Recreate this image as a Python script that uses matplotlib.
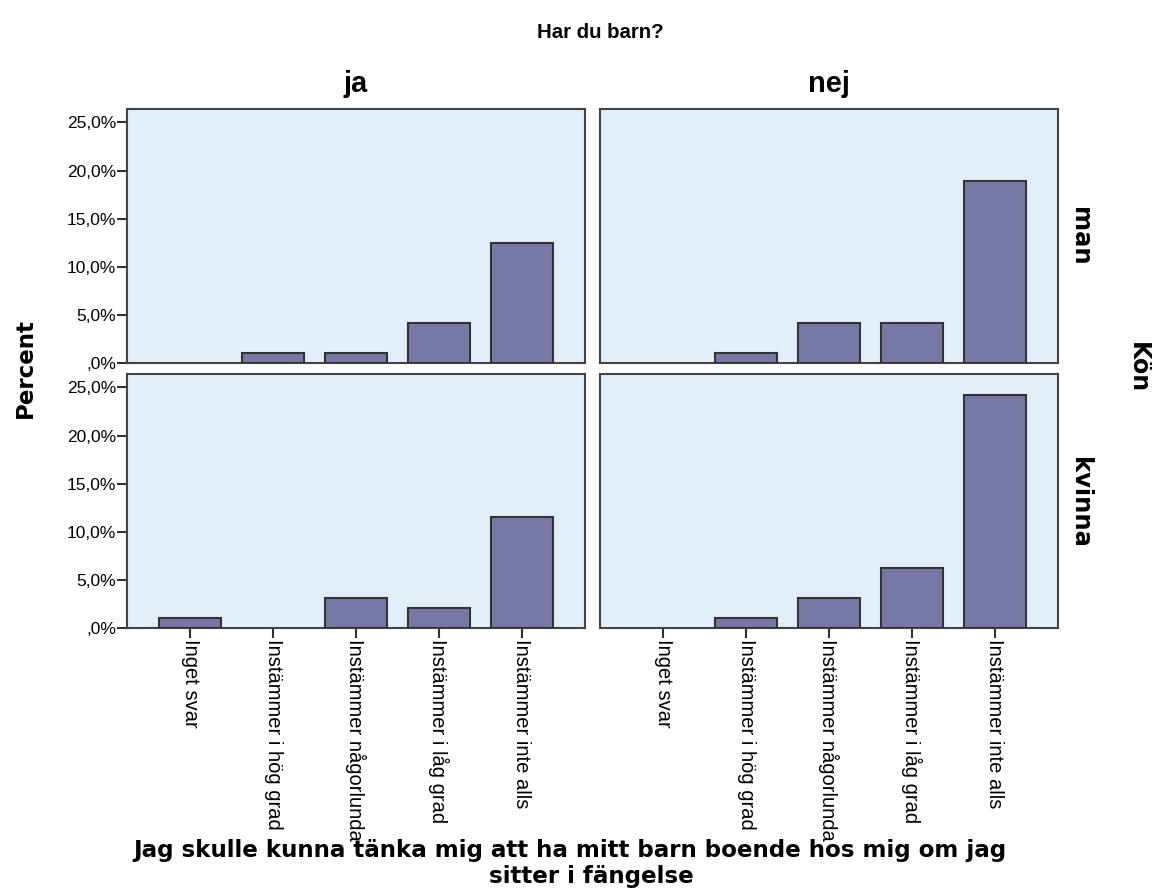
import numpy as np
import matplotlib
matplotlib.use('Agg')
import matplotlib.pyplot as plt
from matplotlib.ticker import FuncFormatter

# kategorier på x-axeln
categories = ['Inget svar', 'Instämmer i hög grad', 'Instämmer någorlunda',
              'Instämmer i låg grad', 'Instämmer inte alls']
col_labels = ['ja', 'nej']
row_labels = ['man', 'kvinna']

# procent per panel
ja_man = [0.0, 1.04, 1.04, 4.17, 12.5]
nej_man = [0.0, 1.04, 4.17, 4.17, 18.9]
ja_kvinna = [1.04, 0.0, 3.13, 2.08, 11.5]
nej_kvinna = [0.0, 1.04, 3.13, 6.25, 24.2]

yticks = [0, 5, 10, 15, 20, 25]

W, H = 1152, 890
fig = plt.figure(figsize=(W / 100, H / 100), dpi=100)

bar_color = '#7878a6'
bg_color = '#e2eefa'
edge_color = '#333333'
arial = ['Liberation Sans', 'DejaVu Sans']
narrow = ['Liberation Sans Narrow', 'Liberation Sans', 'DejaVu Sans']


def pct(v, pos):
    s = ('%.1f' % v).replace('.', ',')
    if s.startswith('0'):
        s = s[1:]
    return s + '%'


# panelernas position i pixlar (vänster, topp)
col_x = [127, 600]
row_y = [109, 374]
pw, ph = 458, 254

panels = [[ja_man, nej_man], [ja_kvinna, nej_kvinna]]
x = np.arange(len(categories))

for r in range(2):
    for c in range(2):
        left = col_x[c] / W
        bottom = 1 - (row_y[r] + ph) / H
        ax = fig.add_axes([left, bottom, pw / W, ph / H])
        ax.set_facecolor(bg_color)
        vals = panels[r][c]
        bars = ax.bar(x, vals, width=0.75, color=bar_color,
                      edgecolor=edge_color, linewidth=1.5, zorder=3)
        # staplar med 0 syns inte
        for b, v in zip(bars, vals):
            if v == 0:
                b.set_visible(False)
        ax.set_xlim(-0.76, 4.76)
        ax.set_ylim(0, 26.4)
        for s in ax.spines.values():
            s.set_color('#444444')
            s.set_linewidth(1.5)
        ax.set_xticks(x)
        if r == 1:
            ax.set_xticklabels(categories, rotation=-90, fontsize=14.5,
                               family=arial, va='top', ha='center')
            ax.tick_params(axis='x', length=7, width=1.5, color='#333333', pad=1)
        else:
            ax.tick_params(axis='x', length=0, labelbottom=False)
        ax.set_yticks(yticks)
        if c == 0:
            ax.yaxis.set_major_formatter(FuncFormatter(pct))
            ax.tick_params(axis='y', length=7, width=1.5, color='#333333',
                           labelsize=12.5, pad=1)
            for t in ax.get_yticklabels():
                t.set_family(arial)
        else:
            ax.tick_params(axis='y', length=0, labelleft=False)

# rubriker
fig.text(600 / W, 1 - 32 / H, 'Har du barn?', ha='center', va='center',
         fontsize=14.7, fontweight='bold', family=narrow)
fig.text(356 / W, 1 - 84 / H, col_labels[0], ha='center', va='center',
         fontsize=21, fontweight='bold', family=narrow)
fig.text(829 / W, 1 - 84 / H, col_labels[1], ha='center', va='center',
         fontsize=21, fontweight='bold', family=narrow)

fig.text(1080 / W, 1 - 236 / H, row_labels[0], ha='center', va='center',
         rotation=-90, fontsize=17.5, fontweight='bold')
fig.text(1080 / W, 1 - 502 / H, row_labels[1], ha='center', va='center',
         rotation=-90, fontsize=17.5, fontweight='bold')
fig.text(1138 / W, 1 - 368 / H, 'Kön', ha='center', va='center', rotation=-90,
         fontsize=17, fontweight='bold')

fig.text(25 / W, 1 - 368 / H, 'Percent', ha='center', va='center', rotation=90,
         fontsize=16.5, fontweight='bold')

# x-axelns rubrik, två rader
fig.text(570 / W, 1 - 857 / H,
         'Jag skulle kunna tänka mig att ha mitt barn boende hos mig om jag',
         ha='center', va='baseline', fontsize=16.6, fontweight='bold')
fig.text(591 / W, 1 - 883 / H, 'sitter i fängelse',
         ha='center', va='baseline', fontsize=16.6, fontweight='bold')

fig.savefig('out.png', dpi=100)
